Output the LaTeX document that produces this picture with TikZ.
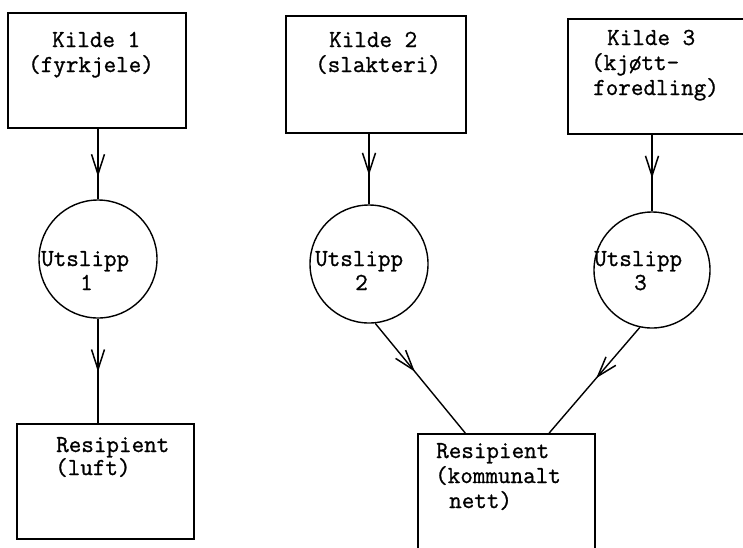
\documentclass[tikz,border=0pt]{standalone}
\usepackage{fontspec}
\newfontfamily\twfont{Latin Modern Mono}[FakeBold=1.0]
\usetikzlibrary{arrows.meta,decorations.markings,calc}
\begin{document}
\begin{tikzpicture}[x=1pt,y=-1pt,
  box/.style={draw,line width=1.6pt,inner sep=0pt,anchor=north west},
  disc/.style={draw,circle,line width=1.4pt,inner sep=0pt,minimum size=118pt},
  txt/.style={anchor=base west,inner sep=0pt,font=\twfont\fontsize{24.4}{25}\selectfont},
  conn/.style={line width=1.4pt},
  flow/.style={conn,postaction={decorate},decoration={markings,
    mark=at position #1 with {\arrow[line width=1.5pt]{Straight Barb[length=20pt,width=13pt]}}}}
]
\useasboundingbox (0,0) rectangle (743,547);
\fill[white] (0,0) rectangle (743,547);
\clip (0,0) rectangle (743,547);

% source boxes
\node[box,minimum width=178pt,minimum height=115pt] (k1) at (7,12) {};
\node[box,minimum width=180pt,minimum height=117pt] (k2) at (285,15) {};
\node[box,minimum width=193pt,minimum height=115pt] (k3) at (567,18) {};

% emission circles
\node[disc] (c1) at (98,259) {};
\node[disc] (c2) at (369,264) {};
\node[disc,minimum size=116pt] (c3) at (652,270) {};

% recipient boxes
\node[box,minimum width=177pt,minimum height=115pt] (r1) at (16,423) {};
\node[box,minimum width=177pt,minimum height=140pt] (r2) at (417,433) {};

% texts
\node[txt] (t1a) at (52,47) {Kilde 1};
\node[txt] (t1b) at (28,72) {(fyrkjele)};
\node[txt] (t2a) at (329,47) {Kilde 2};
\node[txt] (t2b) at (315,72) {(slakteri)};
\node[txt] (t3a) at (607,45) {Kilde 3};
\node[txt] (t3b) at (591,70) {(kjøtt-};
\node[txt] (t3c) at (593,95) {foredling)};

\node[txt] (u1a) at (41,266) {Utslipp};
\node[txt] (u1b) at (80,290) {1};
\node[txt] (u2a) at (315,266) {Utslipp};
\node[txt] (u2b) at (355,290) {2};
\node[txt] (u3a) at (594,266) {Utslipp};
\node[txt] (u3b) at (634,290) {3};

\node[txt] (r1a) at (56,452) {Resipient};
\node[txt] (r1b) at (55,475) {(luft)};
\node[txt] (r2a) at (436,458) {Resipient};
\node[txt] (r2b) at (435,483) {(kommunalt};
\node[txt] (r2c) at (449,508) {nett)};

% connectors
\draw[flow=0.68] (k1.south -| c1.north) -- (c1.north);
\draw[flow=0.59] (k2.south -| c2.north) -- (c2.north);
\draw[flow=0.57] (k3.south -| c3.north) -- (c3.north);
\draw[flow=0.51] (c1.south) -- (r1.north -| c1.south);
\draw[flow=0.44] (c2.-84) -- ($(r2.north west)!0.27!(r2.north east)$);
\draw[flow=0.48] (c3.-102) -- ($(r2.north west)!0.74!(r2.north east)$);
\end{tikzpicture}
\end{document}
